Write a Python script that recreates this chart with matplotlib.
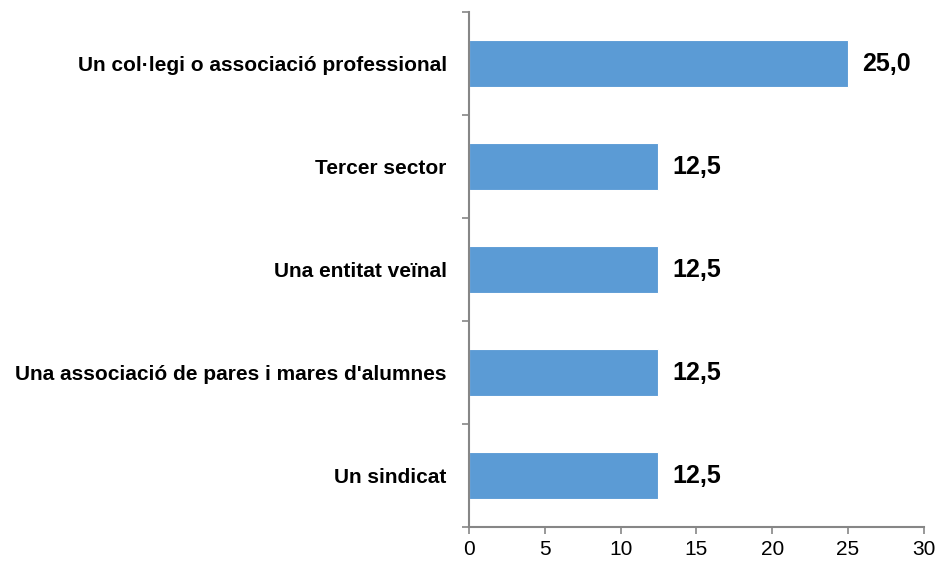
import matplotlib.pyplot as plt
import numpy as np

plt.rcParams['font.family'] = ['Liberation Sans', 'DejaVu Sans']

# categories from bottom to top
categories = ["Un sindicat",
              "Una associació de pares i mares d'alumnes",
              "Una entitat veïnal",
              "Tercer sector",
              "Un col·legi o associació professional"]
values = [12.5, 12.5, 12.5, 12.5, 25.0]
value_labels = ["12,5", "12,5", "12,5", "12,5", "25,0"]

fig = plt.figure(figsize=(9.36, 5.61), dpi=100)
ax = fig.add_axes([0.501, 0.0606, 0.486, 0.918])

y = np.arange(len(categories))
ax.barh(y, values, height=0.46, color="#5B9BD5", edgecolor="white", linewidth=0.8)

for yi, v, lab in zip(y, values, value_labels):
    ax.text(v + 0.9, yi, lab, va="center", ha="left",
            fontsize=18, fontweight="bold")

ax.set_xlim(0, 30)
ax.set_ylim(-0.5, len(categories) - 0.5)
ax.set_xticks(np.arange(0, 31, 5))
ax.tick_params(axis="x", labelsize=15, length=5, color="#868686", width=1.2, pad=4)

# category labels, ticks at group boundaries
ax.set_yticks(y)
ax.set_yticklabels(categories, fontsize=15, fontweight="bold")
ax.tick_params(axis="y", length=0, pad=16)
ax.set_yticks(np.arange(-0.5, len(categories), 1), minor=True)
ax.tick_params(axis="y", which="minor", length=5, color="#868686", width=1.2)

for s in ["top", "right"]:
    ax.spines[s].set_visible(False)
for s in ["left", "bottom"]:
    ax.spines[s].set_color("#868686")
    ax.spines[s].set_linewidth(1.5)

fig.savefig("out.png", dpi=100)
